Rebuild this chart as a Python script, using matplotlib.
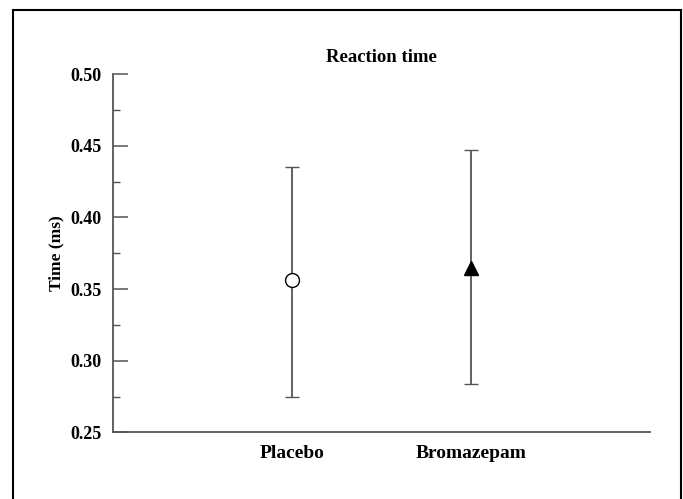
import matplotlib
matplotlib.use('Agg')
import matplotlib.pyplot as plt
from matplotlib.patches import Rectangle
from matplotlib.ticker import MultipleLocator

# 数据
groups = ['Placebo', 'Bromazepam']
means = [0.356, 0.365]
lower = [0.275, 0.284]
upper = [0.435, 0.447]
markers = ['o', '^']
faces = ['white', 'black']

plt.rcParams['font.family'] = ['Liberation Serif', 'DejaVu Serif']
plt.rcParams['font.weight'] = 'bold'

fig = plt.figure(figsize=(6.83, 4.99), dpi=100)
ax = fig.add_axes([0.1654, 0.1333, 0.7863, 0.7184])

# 外框
fig.patches.append(Rectangle((0.019, -0.05), 0.978, 1.03, transform=fig.transFigure,
                             fill=False, edgecolor='black', linewidth=1.5, clip_on=False))

gray = '#555555'
for i, g in enumerate(groups):
    x = i + 1
    ax.errorbar([x], [means[i]],
                yerr=[[means[i] - lower[i]], [upper[i] - means[i]]],
                fmt=markers[i], color=gray, ecolor=gray, elinewidth=1.3,
                capsize=4.8, capthick=1.2, markersize=10,
                markerfacecolor=faces[i], markeredgecolor='black', markeredgewidth=1.0)

ax.set_xlim(0, 3)
ax.set_ylim(0.25, 0.50)
ax.yaxis.set_major_locator(MultipleLocator(0.05))
ax.yaxis.set_minor_locator(MultipleLocator(0.025))
ax.set_yticklabels(['%.2f' % v for v in ax.get_yticks()])
ax.set_xticks([1, 2])
ax.set_xticklabels(groups, fontsize=14, fontweight='bold')

for s in ['top', 'right']:
    ax.spines[s].set_visible(False)
for s in ['left', 'bottom']:
    ax.spines[s].set_color(gray)
    ax.spines[s].set_linewidth(1.3)

ax.tick_params(axis='y', which='major', direction='in', length=10.5, width=1.1,
               color=gray, labelsize=13, pad=8.5)
ax.tick_params(axis='y', which='minor', direction='in', length=5, width=1.0, color=gray)
ax.tick_params(axis='x', length=0, pad=9)

ax.set_title('Reaction time', fontsize=13.5, fontweight='bold', pad=9)
ax.set_ylabel('Time (ms)', fontsize=12.5, fontweight='bold', labelpad=4)

fig.savefig('out.png', dpi=100)
